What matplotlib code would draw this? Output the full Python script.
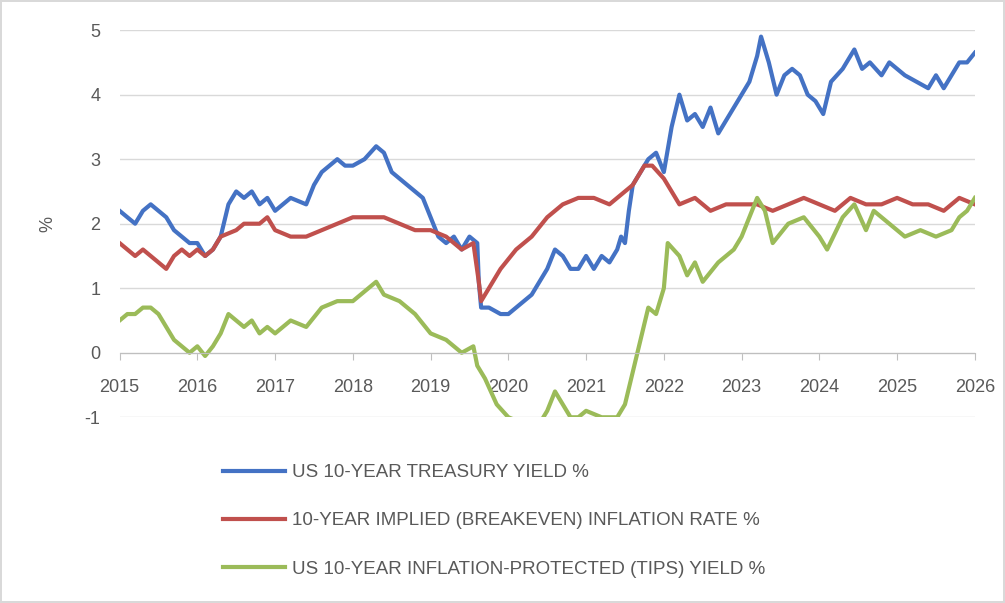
import matplotlib.pyplot as plt
from matplotlib.lines import Line2D

plt.rcParams['font.family'] = ['Liberation Sans', 'DejaVu Sans']
plt.rcParams['axes.unicode_minus'] = False

# US 10-year treasury yield %
tsy_t = [2015.0, 2015.1, 2015.2, 2015.3, 2015.4, 2015.5, 2015.6, 2015.7, 2015.8, 2015.9,
         2016.0, 2016.1, 2016.2, 2016.3, 2016.4, 2016.5, 2016.6, 2016.7, 2016.8, 2016.9,
         2017.0, 2017.2, 2017.4, 2017.5, 2017.6, 2017.7, 2017.8, 2017.9, 2018.0, 2018.15,
         2018.3, 2018.4, 2018.5, 2018.6, 2018.8, 2018.9, 2019.0, 2019.1, 2019.2, 2019.3,
         2019.4, 2019.5, 2019.6, 2019.62, 2019.65, 2019.75, 2019.9, 2020.0, 2020.1, 2020.2,
         2020.3, 2020.4, 2020.5, 2020.6, 2020.7, 2020.8, 2020.9, 2021.0, 2021.1, 2021.2,
         2021.3, 2021.4, 2021.45, 2021.5, 2021.55, 2021.6, 2021.7, 2021.8, 2021.9, 2022.0,
         2022.1, 2022.2, 2022.3, 2022.4, 2022.5, 2022.6, 2022.7, 2022.8, 2022.9, 2023.0,
         2023.1, 2023.2, 2023.25, 2023.35, 2023.45, 2023.55, 2023.65, 2023.75, 2023.85, 2023.95,
         2024.05, 2024.15, 2024.3, 2024.45, 2024.55, 2024.65, 2024.8, 2024.9, 2025.0, 2025.1,
         2025.25, 2025.4, 2025.5, 2025.6, 2025.7, 2025.8, 2025.9, 2026.0]
tsy_v = [2.2, 2.1, 2.0, 2.2, 2.3, 2.2, 2.1, 1.9, 1.8, 1.7,
         1.7, 1.5, 1.6, 1.8, 2.3, 2.5, 2.4, 2.5, 2.3, 2.4,
         2.2, 2.4, 2.3, 2.6, 2.8, 2.9, 3.0, 2.9, 2.9, 3.0,
         3.2, 3.1, 2.8, 2.7, 2.5, 2.4, 2.1, 1.8, 1.7, 1.8,
         1.6, 1.8, 1.7, 1.1, 0.7, 0.7, 0.6, 0.6, 0.7, 0.8,
         0.9, 1.1, 1.3, 1.6, 1.5, 1.3, 1.3, 1.5, 1.3, 1.5,
         1.4, 1.6, 1.8, 1.7, 2.2, 2.6, 2.8, 3.0, 3.1, 2.8,
         3.5, 4.0, 3.6, 3.7, 3.5, 3.8, 3.4, 3.6, 3.8, 4.0,
         4.2, 4.6, 4.9, 4.5, 4.0, 4.3, 4.4, 4.3, 4.0, 3.9,
         3.7, 4.2, 4.4, 4.7, 4.4, 4.5, 4.3, 4.5, 4.4, 4.3,
         4.2, 4.1, 4.3, 4.1, 4.3, 4.5, 4.5, 4.65]

# 10-year breakeven inflation %
bei_t = [2015.0, 2015.1, 2015.2, 2015.3, 2015.4, 2015.5, 2015.6, 2015.7, 2015.8, 2015.9,
         2016.0, 2016.1, 2016.2, 2016.3, 2016.5, 2016.6, 2016.8, 2016.9, 2017.0, 2017.2,
         2017.4, 2017.6, 2017.8, 2018.0, 2018.2, 2018.4, 2018.6, 2018.8, 2019.0, 2019.2,
         2019.4, 2019.55, 2019.62, 2019.65, 2019.7, 2019.9, 2020.1, 2020.3, 2020.5, 2020.7,
         2020.9, 2021.1, 2021.3, 2021.5, 2021.6, 2021.75, 2021.85, 2022.0, 2022.1, 2022.2,
         2022.4, 2022.6, 2022.8, 2023.0, 2023.2, 2023.4, 2023.6, 2023.8, 2024.0, 2024.2,
         2024.4, 2024.6, 2024.8, 2025.0, 2025.2, 2025.4, 2025.6, 2025.8, 2026.0]
bei_v = [1.7, 1.6, 1.5, 1.6, 1.5, 1.4, 1.3, 1.5, 1.6, 1.5,
         1.6, 1.5, 1.6, 1.8, 1.9, 2.0, 2.0, 2.1, 1.9, 1.8,
         1.8, 1.9, 2.0, 2.1, 2.1, 2.1, 2.0, 1.9, 1.9, 1.8,
         1.6, 1.7, 1.1, 0.8, 0.9, 1.3, 1.6, 1.8, 2.1, 2.3,
         2.4, 2.4, 2.3, 2.5, 2.6, 2.9, 2.9, 2.7, 2.5, 2.3,
         2.4, 2.2, 2.3, 2.3, 2.3, 2.2, 2.3, 2.4, 2.3, 2.2,
         2.4, 2.3, 2.3, 2.4, 2.3, 2.3, 2.2, 2.4, 2.3]

# 10-year TIPS yield %
tips_t = [2015.0, 2015.1, 2015.2, 2015.3, 2015.4, 2015.5, 2015.6, 2015.7, 2015.8, 2015.9,
          2016.0, 2016.1, 2016.2, 2016.3, 2016.4, 2016.5, 2016.6, 2016.7, 2016.8, 2016.9,
          2017.0, 2017.2, 2017.4, 2017.6, 2017.8, 2018.0, 2018.2, 2018.3, 2018.4, 2018.6,
          2018.8, 2019.0, 2019.2, 2019.4, 2019.55, 2019.6, 2019.7, 2019.85, 2020.0, 2020.2,
          2020.4, 2020.5, 2020.6, 2020.7, 2020.8, 2020.9, 2021.0, 2021.2, 2021.4, 2021.5,
          2021.6, 2021.7, 2021.8, 2021.9, 2022.0, 2022.05, 2022.2, 2022.3, 2022.4, 2022.5,
          2022.7, 2022.9, 2023.0, 2023.2, 2023.3, 2023.4, 2023.6, 2023.8, 2024.0, 2024.1,
          2024.3, 2024.45, 2024.6, 2024.7, 2024.9, 2025.1, 2025.3, 2025.5, 2025.7, 2025.8,
          2025.9, 2026.0]
tips_v = [0.5, 0.6, 0.6, 0.7, 0.7, 0.6, 0.4, 0.2, 0.1, 0.0,
          0.1, -0.05, 0.1, 0.3, 0.6, 0.5, 0.4, 0.5, 0.3, 0.4,
          0.3, 0.5, 0.4, 0.7, 0.8, 0.8, 1.0, 1.1, 0.9, 0.8,
          0.6, 0.3, 0.2, 0.0, 0.1, -0.2, -0.4, -0.8, -1.0, -1.1,
          -1.1, -0.9, -0.6, -0.8, -1.0, -1.0, -0.9, -1.0, -1.0, -0.8,
          -0.3, 0.2, 0.7, 0.6, 1.0, 1.7, 1.5, 1.2, 1.4, 1.1,
          1.4, 1.6, 1.8, 2.4, 2.2, 1.7, 2.0, 2.1, 1.8, 1.6,
          2.1, 2.3, 1.9, 2.2, 2.0, 1.8, 1.9, 1.8, 1.9, 2.1,
          2.2, 2.4]

years = list(range(2015, 2027))
labels = ["US 10-YEAR TREASURY YIELD %",
          "10-YEAR IMPLIED (BREAKEVEN) INFLATION RATE %",
          "US 10-YEAR INFLATION-PROTECTED (TIPS) YIELD %"]
colors = ["#4472C4", "#C0504D", "#9BBB59"]
text_color = "#595959"

fig = plt.figure(figsize=(10.05, 6.03), dpi=100)
fig.patch.set_edgecolor("#D9D9D9")
fig.patch.set_linewidth(1.5)
ax = fig.add_axes([0.119, 0.308, 0.851, 0.642])

ax.plot(tsy_t, tsy_v, color=colors[0], lw=3, solid_joinstyle="round")
ax.plot(bei_t, bei_v, color=colors[1], lw=3, solid_joinstyle="round")
ax.plot(tips_t, tips_v, color=colors[2], lw=3, solid_joinstyle="round")

ax.set_xlim(2015, 2026)
ax.set_ylim(-1, 5)
ax.set_xticks(years)
ax.set_yticks(range(-1, 6))
ax.yaxis.grid(True, color="#D9D9D9", lw=1)
ax.set_axisbelow(True)
for s in ["left", "right", "top"]:
    ax.spines[s].set_visible(False)
ax.spines["bottom"].set_position(("data", 0))
ax.spines["bottom"].set_color("#BFBFBF")
ax.tick_params(axis="x", colors="#BFBFBF", length=5, direction="out", labelcolor=text_color,
               labelsize=13, pad=14)
ax.tick_params(axis="y", length=0, labelcolor=text_color, labelsize=13, pad=14)
ax.set_ylabel("%", color=text_color, fontsize=13, labelpad=20)

handles = [Line2D([], [], color=c, lw=3) for c in colors]
fig.legend(handles, labels, loc="upper left", bbox_to_anchor=(0.205, 0.258),
           frameon=False, fontsize=13.5, labelcolor=text_color, handlelength=3.3,
           handletextpad=0.4, labelspacing=1.65)

fig.savefig("out.png", dpi=100)
